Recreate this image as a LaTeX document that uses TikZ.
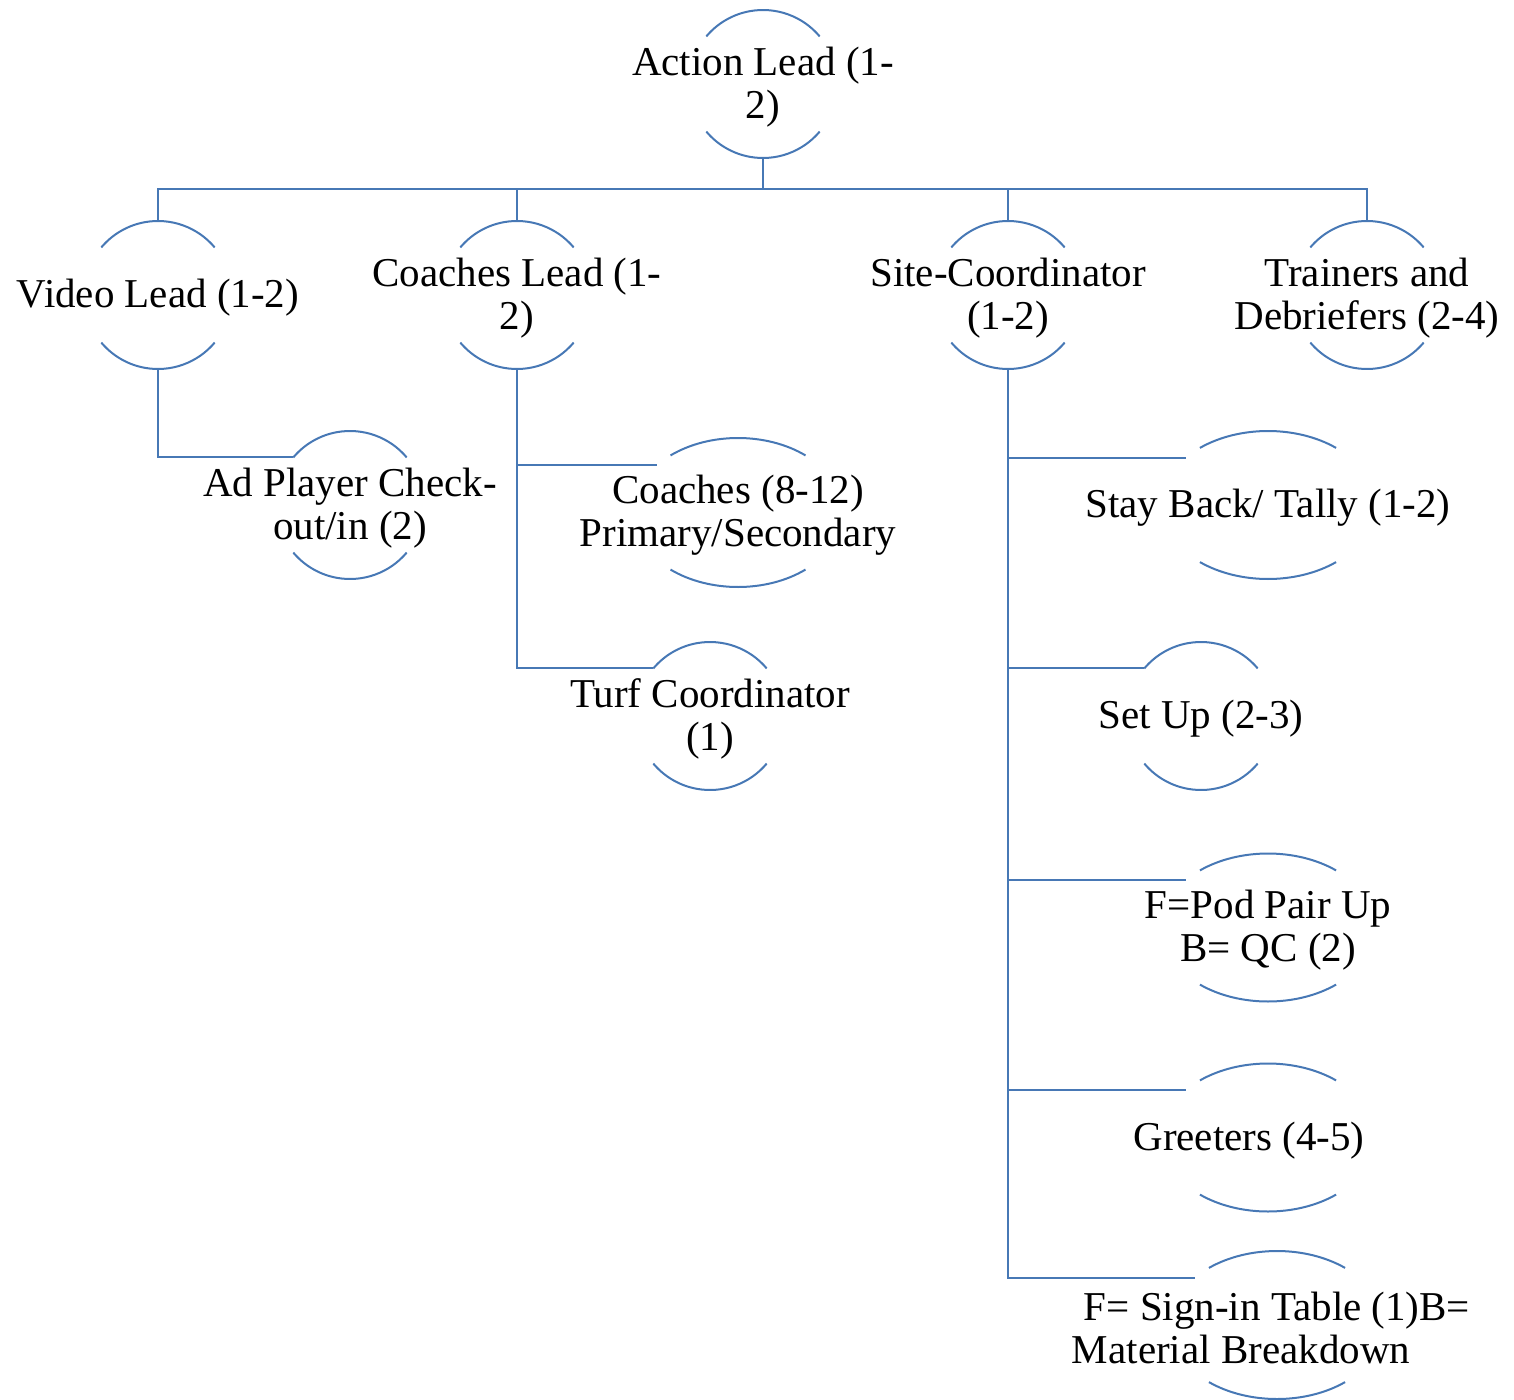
\documentclass[tikz,border=0pt]{standalone}
\usepackage{fontspec}
\setmainfont{Liberation Serif}
\usetikzlibrary{shapes.geometric,calc}
\definecolor{lnc}{HTML}{4778B5}
\newcommand\arcpair[4]{%
  \draw[ln] ($(#1.center)+(#4:#2pt and #3pt)$) arc[start angle=#4, end angle=180-#4, x radius=#2pt, y radius=#3pt];
  \draw[ln] ($(#1.center)+(-#4:#2pt and #3pt)$) arc[start angle=-#4, end angle=-180+#4, x radius=#2pt, y radius=#3pt];
}
\begin{document}
\begin{tikzpicture}[x=1pt,y=1pt,
  ln/.style={draw=lnc, line width=2pt},
  txt/.style={font=\fontsize{41}{43}\selectfont, inner sep=0pt, align=center, text=black, yshift=-3pt},
  cnode/.style={circle, minimum size=148pt, inner sep=0pt, outer sep=0pt},
  enode/.style={ellipse, minimum width=214pt, minimum height=148pt, inner sep=0pt, outer sep=0pt}]
\useasboundingbox (0,0) rectangle (1514,-1399);

% nodes
\node[cnode, label={[txt,name=alt]center:{Action Lead (1-\\2)}}] (al) at (763,-84) {};
\node[cnode, label={[txt,name=vlt]center:{Video Lead (1-2)}}] (vl) at (158,-295) {};
\node[cnode, label={[txt,name=clt]center:{Coaches Lead (1-\\2)}}] (cl) at (517,-295) {};
\node[cnode, label={[txt,name=sct]center:{Site-Coordinator\\(1-2)}}] (sc) at (1008,-295) {};
\node[cnode, label={[txt,name=trt]center:{Trainers and\\Debriefers (2-4)}}] (tr) at (1367,-295) {};
\node[cnode, label={[txt,name=apt]center:{Ad Player Check-\\out/in (2)}}] (ap) at (350,-505) {};
\node[enode, minimum width=210pt, minimum height=149pt, label={[txt,name=cot]center:{Coaches (8-12)\\Primary/Secondary}}] (co) at (738,-512.5) {};
\node[cnode, label={[txt,name=tct]center:{Turf Coordinator\\(1)}}] (tc) at (710,-716) {};
\node[enode, label={[txt,name=sbt]center:{Stay Back/ Tally (1-2)}}] (sb) at (1268,-505) {};
\node[cnode, label={[txt,name=sut]center:{Set Up (2-3)}}] (su) at (1201,-716) {};
\node[enode, label={[txt,name=fpt]center:{F=Pod Pair Up\\B= QC (2)}}] (fp) at (1268,-927.5) {};
\node[enode, label={[txt,name=grt,xshift=-19pt]center:{Greeters (4-5)}}] (gr) at (1268,-1137.5) {};
\node[enode, label={[txt,name=sit]center:{F= Sign-in Table (1)B=\\Material Breakdown\hspace*{72pt}}}] (si) at (1277,-1325) {};

% arcs
\arcpair{al}{74}{74}{40}
\arcpair{vl}{74}{74}{40}
\arcpair{cl}{74}{74}{40}
\arcpair{sc}{74}{74}{40}
\arcpair{tr}{74}{74}{40}
\arcpair{ap}{74}{74}{40}
\arcpair{co}{105}{74.5}{50}
\arcpair{tc}{74}{74}{40}
\arcpair{sb}{107}{74}{50.5}
\arcpair{su}{74}{74}{40}
\arcpair{fp}{107}{74}{50.5}
\arcpair{gr}{107}{74}{50.5}
\arcpair{si}{107}{74}{50.5}

% connectors
\coordinate (bus) at ($(al.south)+(0,-31)$);
\draw[ln] (al.south) -- (bus);
\draw[ln] (bus) -| (vl.north);
\draw[ln] (bus) -| (cl.north);
\draw[ln] (bus) -| (sc.north);
\draw[ln] (bus) -| (tr.north);
\draw[ln] (vl.south) |- (ap.140);
\draw[ln] (cl.south) |- (co.150);
\draw[ln] (cl.south) |- (tc.140);
\draw[ln] (sc.south) |- (sb.150);
\draw[ln] (sc.south) |- (su.140);
\draw[ln] (sc.south) |- (fp.150);
\draw[ln] (sc.south) |- (gr.150);
\draw[ln] (sc.south) |- (si.150);
\end{tikzpicture}
\end{document}
